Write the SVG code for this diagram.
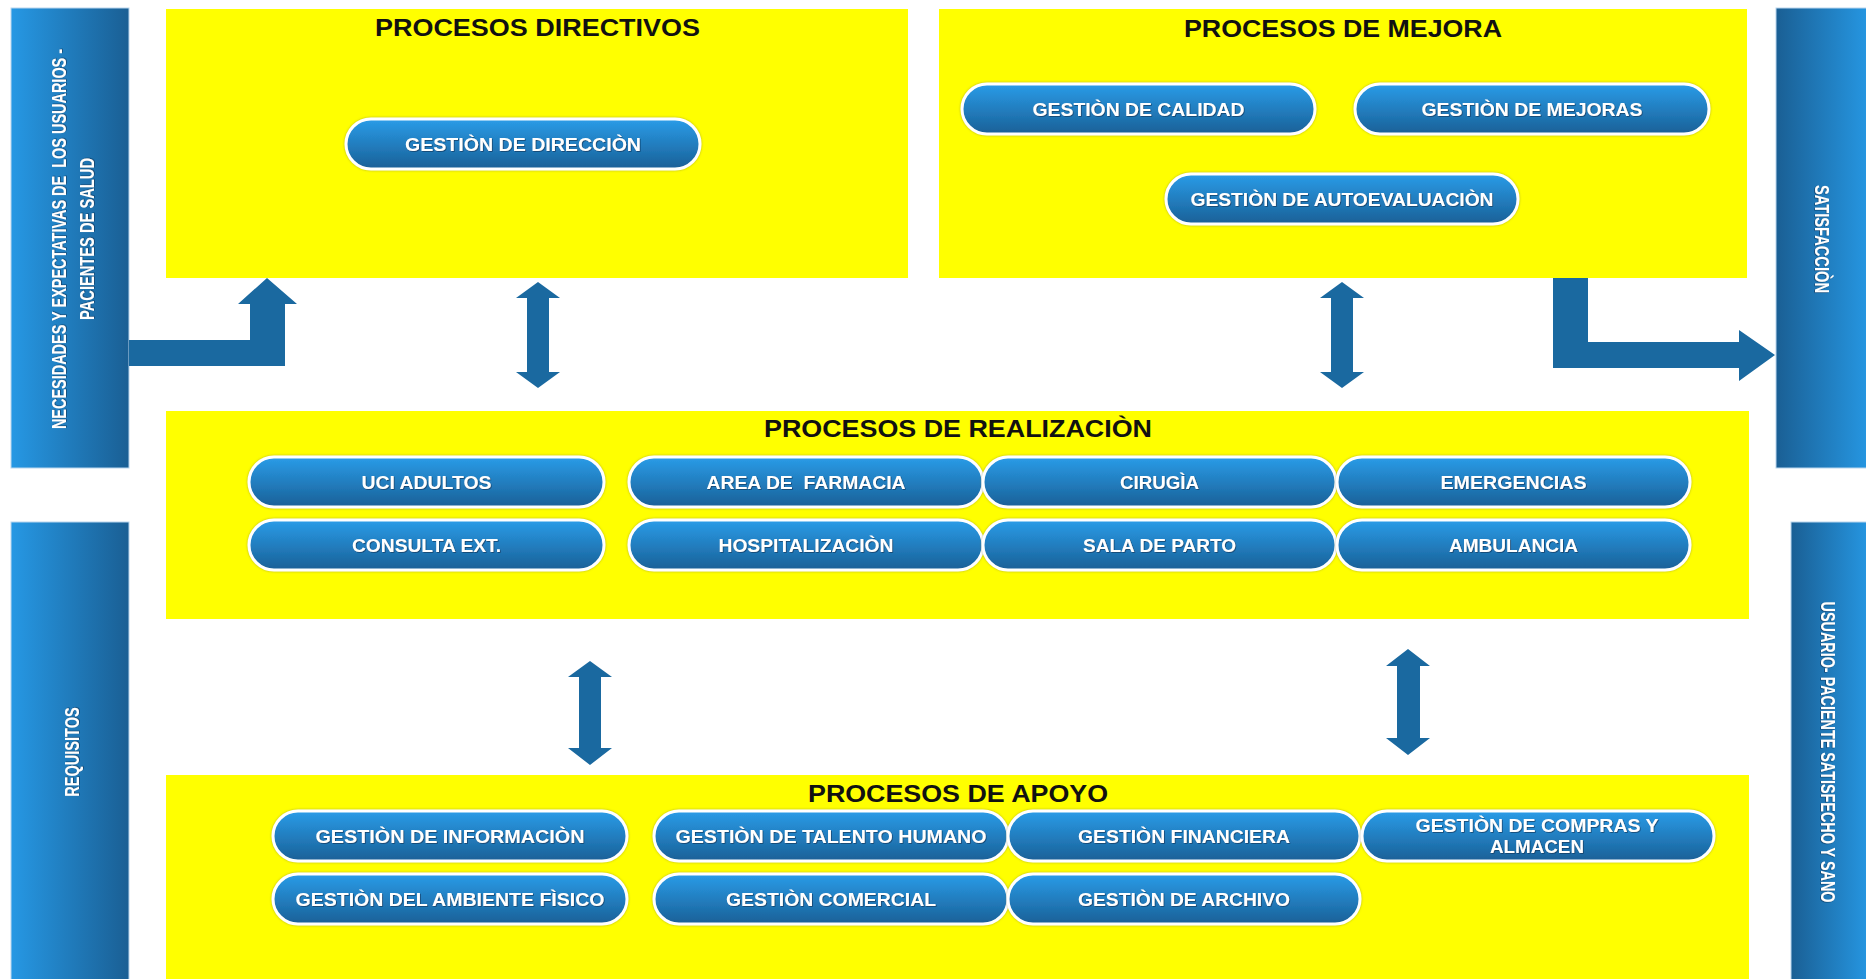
<svg xmlns="http://www.w3.org/2000/svg" width="1866" height="979" viewBox="0 0 1866 979">
  <defs>
    <linearGradient id="barL" x1="0" y1="0" x2="1" y2="0">
      <stop offset="0" stop-color="#2698e4"/>
      <stop offset="1" stop-color="#1a5f94"/>
    </linearGradient>
    <linearGradient id="barR" x1="0" y1="0" x2="1" y2="0">
      <stop offset="0" stop-color="#1a5f94"/>
      <stop offset="1" stop-color="#2698e4"/>
    </linearGradient>
    <linearGradient id="pillFill" x1="0" y1="0" x2="0" y2="1">
      <stop offset="0" stop-color="#2a9ce8"/>
      <stop offset="1" stop-color="#1a6097"/>
    </linearGradient>
    <filter id="txtShadow" x="-5%" y="-30%" width="110%" height="160%">
      <feDropShadow dx="0.8" dy="0.8" stdDeviation="0.6" flood-color="#0b3658" flood-opacity="0.8"/>
    </filter>
    <filter id="pillShadow" x="-5%" y="-20%" width="110%" height="140%">
      <feDropShadow dx="0" dy="0" stdDeviation="1" flood-color="#7a7a40" flood-opacity="0.6"/>
    </filter>
  </defs>
  <style>
    .bar { stroke: #b9d6ee; stroke-width: 1; }
    .panel { fill: #ffff00; }
    .title { font-family: "Liberation Sans", Arial, sans-serif; font-weight: 700; font-size: 23px; fill: #111111; text-anchor: middle; }
    .pill rect { fill: url(#pillFill); stroke: #ffffff; stroke-width: 3; filter: url(#pillShadow); }
    .pill text, .side { font-family: "Liberation Sans", Arial, sans-serif; font-weight: 700; fill: #ffffff; text-anchor: middle; filter: url(#txtShadow); }
    .pill text { font-size: 19px; }
    .side { font-size: 20px; }
    .arrow { fill: #1a69a0; }
  </style>

  <rect width="1866" height="979" fill="#ffffff"/>

  <!-- side bars: vertical labels are narrowed with a horizontal scale -->
  <g id="bar-necesidades">
    <rect class="bar" x="11" y="8" width="118" height="460" fill="url(#barL)"/>
    <text class="side" xml:space="preserve" x="0" y="0" transform="translate(66 239) rotate(-90) scale(0.72 1)" textLength="528" lengthAdjust="spacingAndGlyphs">NECESIDADES Y EXPECTATIVAS DE  LOS USUARIOS -</text>
    <text class="side" x="0" y="0" transform="translate(94 239) rotate(-90) scale(0.72 1)" textLength="225" lengthAdjust="spacingAndGlyphs">PACIENTES DE SALUD</text>
  </g>
  <g id="bar-requisitos">
    <rect class="bar" x="11" y="522" width="118" height="462" fill="url(#barL)"/>
    <text class="side" x="0" y="0" transform="translate(79 752) rotate(-90) scale(0.72 1)" textLength="124" lengthAdjust="spacingAndGlyphs">REQUISITOS</text>
  </g>
  <g id="bar-satisfaccion">
    <rect class="bar" x="1776" y="8" width="95" height="460" fill="url(#barR)"/>
    <text class="side" x="0" y="0" transform="translate(1815 239) rotate(90) scale(0.72 1)" textLength="150" lengthAdjust="spacingAndGlyphs">SATISFACCIÒN</text>
  </g>
  <g id="bar-usuario">
    <rect class="bar" x="1791" y="522" width="80" height="462" fill="url(#barR)"/>
    <text class="side" x="0" y="0" transform="translate(1821 752) rotate(90) scale(0.72 1)" textLength="418" lengthAdjust="spacingAndGlyphs">USUARIO- PACIENTE SATISFECHO Y SANO</text>
  </g>

  <!-- process panels -->
  <g id="procesos-directivos">
    <rect class="panel" x="166" y="9" width="742" height="269"/>
    <text class="title" x="537.5" y="36" textLength="325" lengthAdjust="spacingAndGlyphs">PROCESOS DIRECTIVOS</text>
    <g class="pill" id="gestion-direccion">
      <rect x="346" y="119" width="354" height="50" rx="25"/>
      <text x="523" y="151" textLength="236" lengthAdjust="spacingAndGlyphs">GESTIÒN DE DIRECCIÒN</text>
    </g>
  </g>

  <g id="procesos-mejora">
    <rect class="panel" x="939" y="9" width="808" height="269"/>
    <text class="title" x="1343" y="37" textLength="318" lengthAdjust="spacingAndGlyphs">PROCESOS DE MEJORA</text>
    <g class="pill" id="gestion-calidad">
      <rect x="962" y="84" width="353" height="50" rx="25"/>
      <text x="1138.5" y="116" textLength="212" lengthAdjust="spacingAndGlyphs">GESTIÒN DE CALIDAD</text>
    </g>
    <g class="pill" id="gestion-mejoras">
      <rect x="1355" y="84" width="354" height="50" rx="25"/>
      <text x="1532" y="116" textLength="221" lengthAdjust="spacingAndGlyphs">GESTIÒN DE MEJORAS</text>
    </g>
    <g class="pill" id="gestion-autoevaluacion">
      <rect x="1166" y="174" width="352" height="50" rx="25"/>
      <text x="1342" y="206" textLength="303" lengthAdjust="spacingAndGlyphs">GESTIÒN DE AUTOEVALUACIÒN</text>
    </g>
  </g>

  <g id="procesos-realizacion">
    <rect class="panel" x="166" y="411" width="1583" height="208"/>
    <text class="title" x="958" y="437" textLength="388" lengthAdjust="spacingAndGlyphs">PROCESOS DE REALIZACIÒN</text>
    <g class="pill" id="uci-adultos">
      <rect x="249" y="457" width="355" height="50" rx="25"/>
      <text x="426.5" y="489" textLength="130" lengthAdjust="spacingAndGlyphs">UCI ADULTOS</text>
    </g>
    <g class="pill" id="area-farmacia">
      <rect x="629" y="457" width="354" height="50" rx="25"/>
      <text xml:space="preserve" x="806" y="489" textLength="199" lengthAdjust="spacingAndGlyphs">AREA DE  FARMACIA</text>
    </g>
    <g class="pill" id="cirugia">
      <rect x="983" y="457" width="353" height="50" rx="25"/>
      <text x="1159.5" y="489" textLength="79" lengthAdjust="spacingAndGlyphs">CIRUGÌA</text>
    </g>
    <g class="pill" id="emergencias">
      <rect x="1337" y="457" width="353" height="50" rx="25"/>
      <text x="1513.5" y="489" textLength="146" lengthAdjust="spacingAndGlyphs">EMERGENCIAS</text>
    </g>
    <g class="pill" id="consulta-ext">
      <rect x="249" y="520" width="355" height="50" rx="25"/>
      <text x="426.5" y="552" textLength="149" lengthAdjust="spacingAndGlyphs">CONSULTA EXT.</text>
    </g>
    <g class="pill" id="hospitalizacion">
      <rect x="629" y="520" width="354" height="50" rx="25"/>
      <text x="806" y="552" textLength="175" lengthAdjust="spacingAndGlyphs">HOSPITALIZACIÒN</text>
    </g>
    <g class="pill" id="sala-parto">
      <rect x="983" y="520" width="353" height="50" rx="25"/>
      <text x="1159.5" y="552" textLength="153" lengthAdjust="spacingAndGlyphs">SALA DE PARTO</text>
    </g>
    <g class="pill" id="ambulancia">
      <rect x="1337" y="520" width="353" height="50" rx="25"/>
      <text x="1513.5" y="552" textLength="129" lengthAdjust="spacingAndGlyphs">AMBULANCIA</text>
    </g>
  </g>

  <g id="procesos-apoyo">
    <rect class="panel" x="166" y="775" width="1583" height="210"/>
    <text class="title" x="958" y="802" textLength="300" lengthAdjust="spacingAndGlyphs">PROCESOS DE APOYO</text>
    <g class="pill" id="gestion-informacion">
      <rect x="273" y="811" width="354" height="50" rx="25"/>
      <text x="450" y="843" textLength="269" lengthAdjust="spacingAndGlyphs">GESTIÒN DE INFORMACIÒN</text>
    </g>
    <g class="pill" id="gestion-talento">
      <rect x="654" y="811" width="354" height="50" rx="25"/>
      <text x="831" y="843" textLength="311" lengthAdjust="spacingAndGlyphs">GESTIÒN DE TALENTO HUMANO</text>
    </g>
    <g class="pill" id="gestion-financiera">
      <rect x="1008" y="811" width="352" height="50" rx="25"/>
      <text x="1184" y="843" textLength="212" lengthAdjust="spacingAndGlyphs">GESTIÒN FINANCIERA</text>
    </g>
    <g class="pill" id="gestion-compras">
      <rect x="1362" y="811" width="352" height="50" rx="25"/>
      <text x="1537" y="832" textLength="243" lengthAdjust="spacingAndGlyphs">GESTIÒN DE COMPRAS Y</text>
      <text x="1537" y="853" textLength="94" lengthAdjust="spacingAndGlyphs">ALMACEN</text>
    </g>
    <g class="pill" id="gestion-ambiente">
      <rect x="273" y="874" width="354" height="50" rx="25"/>
      <text x="450" y="906" textLength="309" lengthAdjust="spacingAndGlyphs">GESTIÒN DEL AMBIENTE FÌSICO</text>
    </g>
    <g class="pill" id="gestion-comercial">
      <rect x="654" y="874" width="354" height="50" rx="25"/>
      <text x="831" y="906" textLength="210" lengthAdjust="spacingAndGlyphs">GESTIÒN COMERCIAL</text>
    </g>
    <g class="pill" id="gestion-archivo">
      <rect x="1008" y="874" width="352" height="50" rx="25"/>
      <text x="1184" y="906" textLength="212" lengthAdjust="spacingAndGlyphs">GESTIÒN DE ARCHIVO</text>
    </g>
  </g>

  <!-- connectors -->
  <g id="connectors">
    <!-- entry elbow: needs -> directivos -->
    <polygon class="arrow" points="129,340 250,340 250,304 238,304 267,278 297,304 285,304 285,366 129,366"/>
    <!-- exit elbow: mejora -> satisfaccion -->
    <polygon class="arrow" points="1553,278 1588,278 1588,342 1739,342 1739,330 1775,355 1739,381 1739,368 1553,368"/>
    <!-- double-headed links -->
    <polygon class="arrow" points="538,282 560,298 549,298 549,372 560,372 538,388 516,372 527,372 527,298 516,298"/>
    <polygon class="arrow" points="1342,282 1364,298 1353,298 1353,372 1364,372 1342,388 1320,372 1331,372 1331,298 1320,298"/>
    <polygon class="arrow" points="590,661 612,677 601,677 601,748 612,748 590,765 568,748 579,748 579,677 568,677"/>
    <polygon class="arrow" points="1408,649 1430,666 1420,666 1420,738 1430,738 1408,755 1386,738 1397,738 1397,666 1386,666"/>
  </g>
</svg>
